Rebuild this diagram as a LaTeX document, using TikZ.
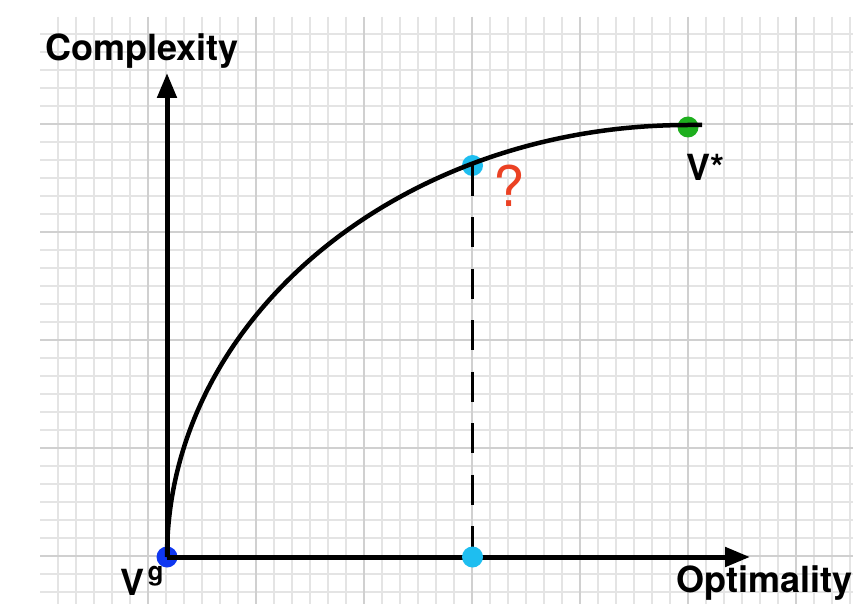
\documentclass[tikz,border=0pt]{standalone}
\usepackage{fontspec}
\setmainfont{TeX Gyre Heros}
\usetikzlibrary{arrows.meta}
\definecolor{ptblue}{RGB}{15,55,240}
\definecolor{ptcyan}{RGB}{30,190,240}
\definecolor{ptgreen}{RGB}{30,175,30}
\definecolor{qred}{RGB}{235,65,35}
\definecolor{gridminor}{RGB}{228,228,228}
\definecolor{gridmajor}{RGB}{208,208,208}
\begin{document}
\begin{tikzpicture}[x=1pt,y=-1pt,
  minorline/.style={draw=gridminor,line width=1.3pt},
  majorline/.style={draw=gridmajor,line width=1.6pt},
  axisline/.style={line width=5pt,-{Triangle[length=25pt,width=19pt]}},
  curveline/.style={line width=4.5pt},
  dropline/.style={line width=2.6pt,dash pattern=on 30pt off 21.5pt},
  dot/.style={circle,inner sep=0pt,minimum size=21pt},
  lbl/.style={inner sep=0pt,anchor=base west,font=\fontsize{36}{40}\selectfont\bfseries}]
\useasboundingbox (0,0) rectangle (853,604);
\fill[white] (0,0) rectangle (853,604);
% grid paper
\begin{scope}
  \clip (40,17) rectangle (853,604);
  \foreach \x in {58,76,...,850} \draw[minorline] (\x,17) -- (\x,604);
  \foreach \y in {34,52,...,592} \draw[minorline] (40,\y) -- (853,\y);
  \foreach \x in {148,256,...,796} \draw[majorline] (\x,17) -- (\x,604);
  \foreach \y in {124,232,...,556} \draw[majorline] (40,\y) -- (853,\y);
\end{scope}
% points
\node[dot,fill=ptblue] (vg) at (167,557) {};
\node[dot,fill=ptcyan] (q) at (472.5,165.5) {};
\node[dot,fill=ptgreen] (vstar) at (688,127) {};
\coordinate (ytip) at (167,73);
\coordinate (xtip) at (750,557);
\coordinate (cend) at (702,125);
% dashed drop line
\draw[dropline] (q.center) -- (472.5,557);
% axes
\draw[axisline] (vg.center) -- (ytip);
\draw[axisline] (vg.center) -- (xtip);
% curve (quarter ellipse)
\draw[curveline] (vg.center) .. controls (167,318.4) and (400.2,125) .. (688,125) -- (cend);
\node[dot,fill=ptcyan] (qb) at (472.5,557) {};
% labels
\node[lbl] (ylab) at (45,61) {Complexity};
\node[lbl] (xlab) at (676,592) {Optimality};
\node[lbl] (vslab) at (686.5,180) {V*};
\node[lbl] (vglab) at (120.5,595) {V\kern3pt\raisebox{15pt}{\fontsize{26}{26}\selectfont g}};
\node[inner sep=0pt,anchor=base west,text=qred,font=\fontsize{56}{60}\selectfont] (qm) at (493,206) {?};
\end{tikzpicture}
\end{document}
